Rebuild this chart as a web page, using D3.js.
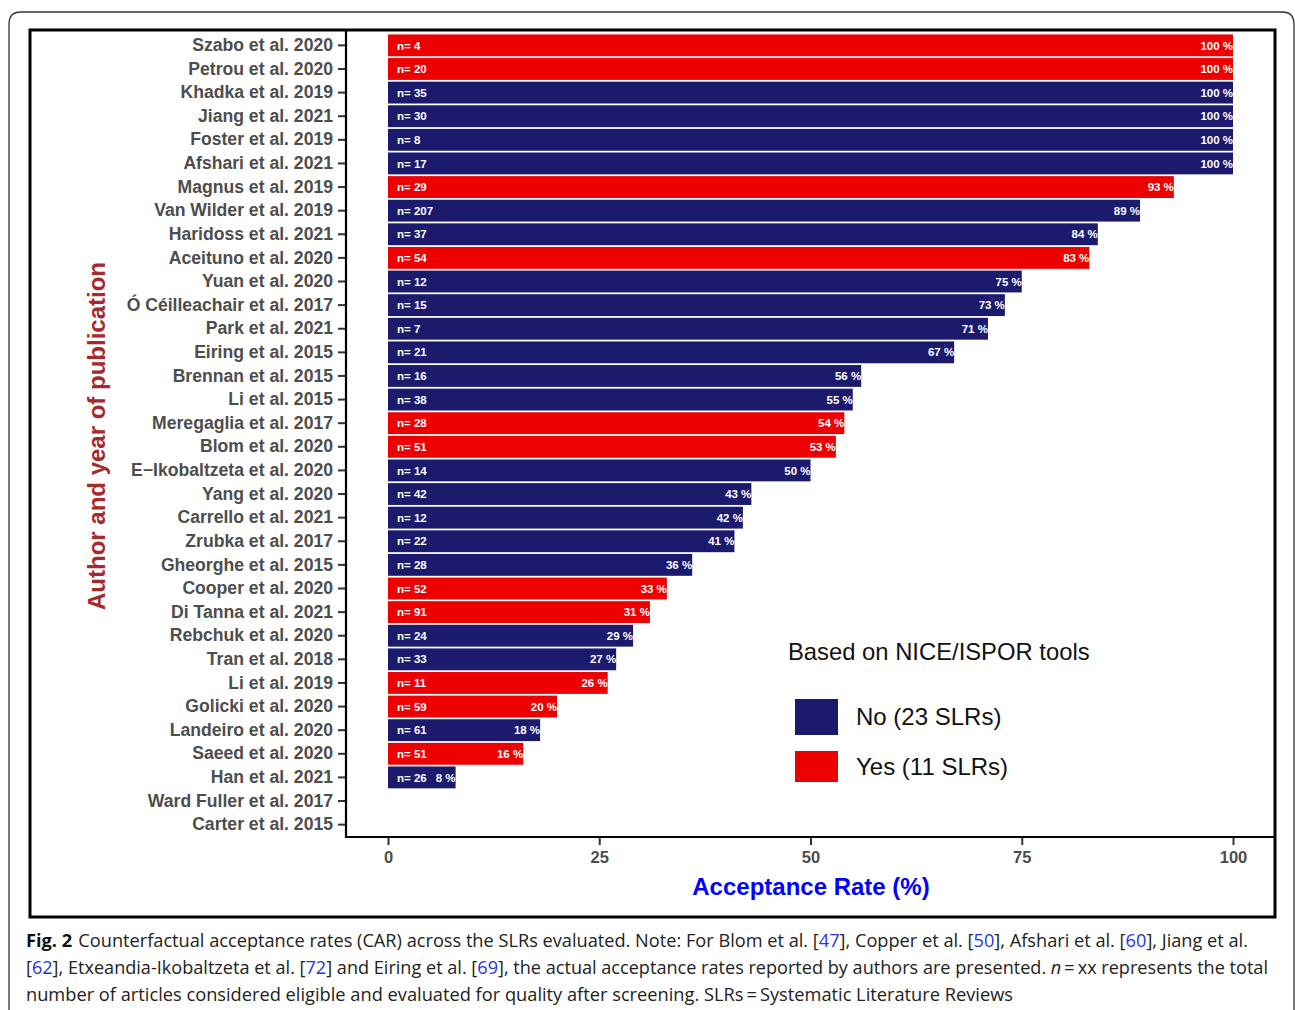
<!DOCTYPE html>
<html><head><meta charset="utf-8">
<script src="https://cdn.jsdelivr.net/npm/d3@7"></script>
<style>body{margin:0;background:#fff}svg{display:block}</style>
</head><body>
<svg id="c" width="1295" height="1010"></svg>
<script>
const authors = ["Szabo et al. 2020","Petrou et al. 2020","Khadka et al. 2019","Jiang et al. 2021","Foster et al. 2019","Afshari et al. 2021","Magnus et al. 2019","Van Wilder et al. 2019","Haridoss et al. 2021","Aceituno et al. 2020","Yuan et al. 2020","Ó Céilleachair et al. 2017","Park et al. 2021","Eiring et al. 2015","Brennan et al. 2015","Li et al. 2015","Meregaglia et al. 2017","Blom et al. 2020","E−Ikobaltzeta et al. 2020","Yang et al. 2020","Carrello et al. 2021","Zrubka et al. 2017","Gheorghe et al. 2015","Cooper et al. 2020","Di Tanna et al. 2021","Rebchuk et al. 2020","Tran et al. 2018","Li et al. 2019","Golicki et al. 2020","Landeiro et al. 2020","Saeed et al. 2020","Han et al. 2021","Ward Fuller et al. 2017","Carter et al. 2015"];
const rates = [100,100,100,100,100,100,93,89,84,83,75,73,71,67,56,55,54,53,50,43,42,41,36,33,31,29,27,26,20,18,16,8,null,null];
const nEval = [4,20,35,30,8,17,29,207,37,54,12,15,7,21,16,38,28,51,14,42,12,22,28,52,91,24,33,11,59,61,51,26,null,null];
const niceIspor = ["Yes","Yes","No","No","No","No","Yes","No","No","Yes","No","No","No","No","No","No","Yes","Yes","No","No","No","No","No","Yes","Yes","No","No","Yes","Yes","No","Yes","No","No","No"];
const xTicks = [0,25,50,75,100];
const legendGroups = ["No","Yes"];
const legendLabels = ["No (23 SLRs)","Yes (11 SLRs)"];

const svg = d3.select("#c");
const colors = {No:"#1b1a6d", Yes:"#ee0000"};

// outer journal box
svg.append("path").attr("d","M9,1015 L9,24 Q9,12 21,12 L1282,12 Q1294,12 1294,24 L1294,1015")
  .attr("fill","none").attr("stroke","#333").attr("stroke-width",1.3);
// figure frame
svg.append("rect").attr("x",30).attr("y",30).attr("width",1245).attr("height",887)
  .attr("fill","none").attr("stroke","#000").attr("stroke-width",3);

const x = d3.scaleLinear().domain([0,100]).range([388,1233]);
const y = d3.scaleBand().domain(authors).range([33.5,836.5]).paddingInner(0.075).paddingOuter(0.04);

const rows = authors.map((a,i)=>({a, r:rates[i], n:nEval[i], g:niceIspor[i]}));

// bars
svg.append("g").selectAll("rect").data(rows.filter(d=>d.r!=null)).join("rect")
  .attr("x",x(0)).attr("y",d=>y(d.a)).attr("width",d=>x(d.r)-x(0)).attr("height",y.bandwidth())
  .attr("fill",d=>colors[d.g]);
const lbl = svg.append("g").attr("font-family","Liberation Sans, Arial, sans-serif").attr("font-weight","bold")
  .attr("font-size",11.5).attr("fill","#fff");
lbl.selectAll("text.n").data(rows.filter(d=>d.r!=null)).join("text").attr("class","n")
  .attr("x",x(0)+9).attr("y",d=>y(d.a)+y.bandwidth()/2).attr("dy","0.36em").text(d=>"n= "+d.n);
lbl.selectAll("text.p").data(rows.filter(d=>d.r!=null)).join("text").attr("class","p")
  .attr("x",d=>x(d.r)).attr("y",d=>y(d.a)+y.bandwidth()/2).attr("dy","0.36em").attr("text-anchor","end")
  .text(d=>d.r+" %");

// axes
const yAx = svg.append("g").attr("transform","translate(346,0)")
  .call(d3.axisLeft(y).tickSize(8).tickPadding(5));
yAx.select(".domain").remove();
yAx.selectAll(".tick line").attr("stroke","#333").attr("stroke-width",2);
yAx.selectAll(".tick text").attr("font-family","Liberation Sans, Arial, sans-serif").attr("font-weight","bold")
  .attr("font-size",17.6).attr("fill","#4d4d4d");
const xAx = svg.append("g").attr("transform","translate(0,837)")
  .call(d3.axisBottom(x).tickValues(xTicks).tickSize(8).tickPadding(6));
xAx.select(".domain").remove();
xAx.selectAll(".tick line").attr("stroke","#333").attr("stroke-width",2);
xAx.selectAll(".tick text").attr("font-family","Liberation Sans, Arial, sans-serif").attr("font-weight","bold")
  .attr("font-size",16.5).attr("fill","#4d4d4d");
// axis lines
svg.append("line").attr("x1",346).attr("x2",346).attr("y1",30).attr("y2",838).attr("stroke","#000").attr("stroke-width",2.2);
svg.append("line").attr("x1",345).attr("x2",1275).attr("y1",837).attr("y2",837).attr("stroke","#000").attr("stroke-width",2.2);

// titles
svg.append("text").attr("transform","translate(105,436) rotate(-90)").attr("text-anchor","middle")
  .attr("font-family","Liberation Sans, Arial, sans-serif").attr("font-weight","bold").attr("font-size",24)
  .attr("fill","#a52a2a").text("Author and year of publication");
svg.append("text").attr("x",811).attr("y",895).attr("text-anchor","middle")
  .attr("font-family","Liberation Sans, Arial, sans-serif").attr("font-weight","bold").attr("font-size",24)
  .attr("fill","#0000ff").text("Acceptance Rate (%)");

// legend
const lg = svg.append("g").attr("font-family","Liberation Sans, Arial, sans-serif");
lg.append("text").attr("x",788).attr("y",660).attr("font-size",23.8).attr("fill","#111").text("Based on NICE/ISPOR tools");
legendGroups.forEach((g,i)=>{
  lg.append("rect").attr("x",795).attr("y",699+i*52).attr("width",43).attr("height",i? 31:36).attr("fill",colors[g]);
  lg.append("text").attr("x",856).attr("y",716+i*50).attr("dy","0.36em").attr("font-size",24).attr("fill","#111").text(legendLabels[i]);
});

// caption
const cap = svg.append("g").attr("font-family","Open Sans, sans-serif").attr("font-size",17.5).attr("fill","#222");
function line(yy, parts, len){
  const t = cap.append("text").attr("x",26).attr("y",yy).attr("textLength",len).attr("lengthAdjust","spacingAndGlyphs");
  parts.forEach(p=>{
    const s = t.append("tspan").text(p[0]);
    if(p[1]==="b") s.attr("font-weight","bold").attr("fill","#111");
    if(p[1]==="l") s.attr("fill","#2b35d6");
    if(p[1]==="i") s.attr("font-style","italic");
    if(p[1]==="g") s.attr("dx",6);
  });
}
line(947,[["Fig. 2","b"],["Counterfactual acceptance rates (CAR) across the SLRs evaluated. Note: For Blom et al. [","g"],["47","l"],["], Copper et al. ["],["50","l"],["], Afshari et al. ["],["60","l"],["], Jiang et al."]],1222);
line(974,[["["],["62","l"],["], Etxeandia-Ikobaltzeta et al. ["],["72","l"],["] and Eiring et al. ["],["69","l"],["], the actual acceptance rates reported by authors are presented. "],["n","i"],["\u2009=\u2009xx represents the total"]],1242);
line(1001,[["number of articles considered eligible and evaluated for quality after screening. SLRs\u2009=\u2009Systematic Literature Reviews"]],987);
</script>
</body></html>
